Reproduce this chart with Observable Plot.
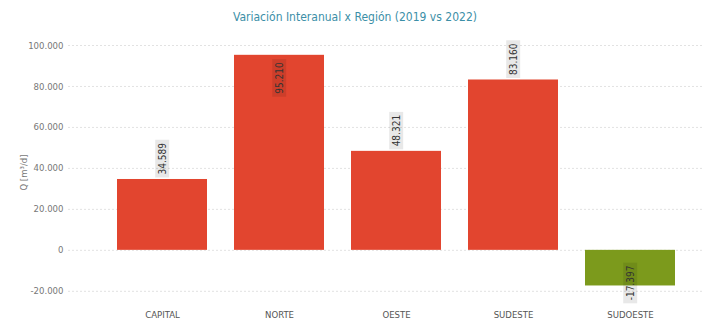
<!DOCTYPE html>
<html><head><meta charset="utf-8">
<script src="https://cdn.jsdelivr.net/npm/d3@7"></script>
<script src="https://cdn.jsdelivr.net/npm/@observablehq/plot@0.6"></script>
<style>
body{margin:0;background:#fff;font-family:"DejaVu Sans Condensed","Roboto",sans-serif;}
#title{height:30px;box-sizing:border-box;padding-top:5px;line-height:24px;text-align:center;color:#3c8fa7;font-size:12px;}
#chart svg{display:block;}
</style></head><body>
<div id="title">Variación Interanual x Región (2019 vs 2022)</div>
<div id="chart"></div>
<script>
const regions = ["CAPITAL", "NORTE", "OESTE", "SUDESTE", "SUDOESTE"];
const values = [34589, 95210, 48321, 83160, -17397];
const yTicks = [-20000, 0, 20000, 40000, 60000, 80000, 100000];
const yLabel = "Q [m³/d]";
const posColor = "#e2452f", negColor = "#7c9a1c";

const data = regions.map((r, i) => ({region: r, value: values[i]}));
const fmt = d3.formatLocale({decimal: ",", thousands: ".", grouping: [3], currency: ["$", ""], minus: "-"}).format(",d");
const yMax = d3.max(yTicks);
const lblOut = data.filter(d => d.value > 0 && d.value < 0.9 * yMax);
const lblIn = data.filter(d => d.value >= 0.9 * yMax);
const lblNeg = data.filter(d => d.value < 0);
const lblOpts = {x: "region", y: "value", text: d => fmt(d.value), rotate: -90, fill: "#333", fontSize: 10, ariaLabel: "vlbl", className: "vlbl"};

const chart = Plot.plot({
  width: 710, height: 292,
  marginTop: 15, marginBottom: 23, marginLeft: 68, marginRight: 8,
  style: {fontFamily: '"DejaVu Sans Condensed","Roboto",sans-serif', fontSize: "9.5px", color: "#777", background: "#fff"},
  x: {domain: regions, padding: 0.23, insetLeft: 22, label: null},
  y: {domain: [-24000, 100000], label: null},
  marks: [
    Plot.ruleY(yTicks, {stroke: "#e2e2e2", strokeDasharray: "2,2"}),
    Plot.barY(data, {x: "region", y: "value", fill: d => d.value < 0 ? negColor : posColor}),
    Plot.axisY({ticks: yTicks, tickFormat: fmt, tickSize: 0, tickPadding: 5, label: yLabel, labelAnchor: "center", labelOffset: 48, labelArrow: "none", fill: "#777"}),
    Plot.axisX({tickSize: 0, tickPadding: 12, label: null, fill: "#555"}),
    Plot.text(lblOut, {...lblOpts, textAnchor: "start", dy: -5}),
    Plot.text(lblIn, {...lblOpts, textAnchor: "end", dy: 7}),
    Plot.text(lblNeg, {...lblOpts, textAnchor: "middle", dy: -3})
  ]
});
document.getElementById("chart").append(chart);

// gray boxes behind value labels
chart.querySelectorAll('g[aria-label="vlbl"] text, g.vlbl text').forEach(t => {
  if (t.previousSibling && t.previousSibling.tagName === "rect") return;
  const b = t.getBBox();
  const r = document.createElementNS("http://www.w3.org/2000/svg", "rect");
  r.setAttribute("x", b.x - 3);
  r.setAttribute("y", b.y - 1.5);
  r.setAttribute("width", b.width + 6);
  r.setAttribute("height", b.height + 3);
  r.setAttribute("fill", "#000");
  r.setAttribute("fill-opacity", "0.09");
  if (t.getAttribute("transform")) r.setAttribute("transform", t.getAttribute("transform"));
  t.parentNode.insertBefore(r, t);
});
</script>
</body></html>
